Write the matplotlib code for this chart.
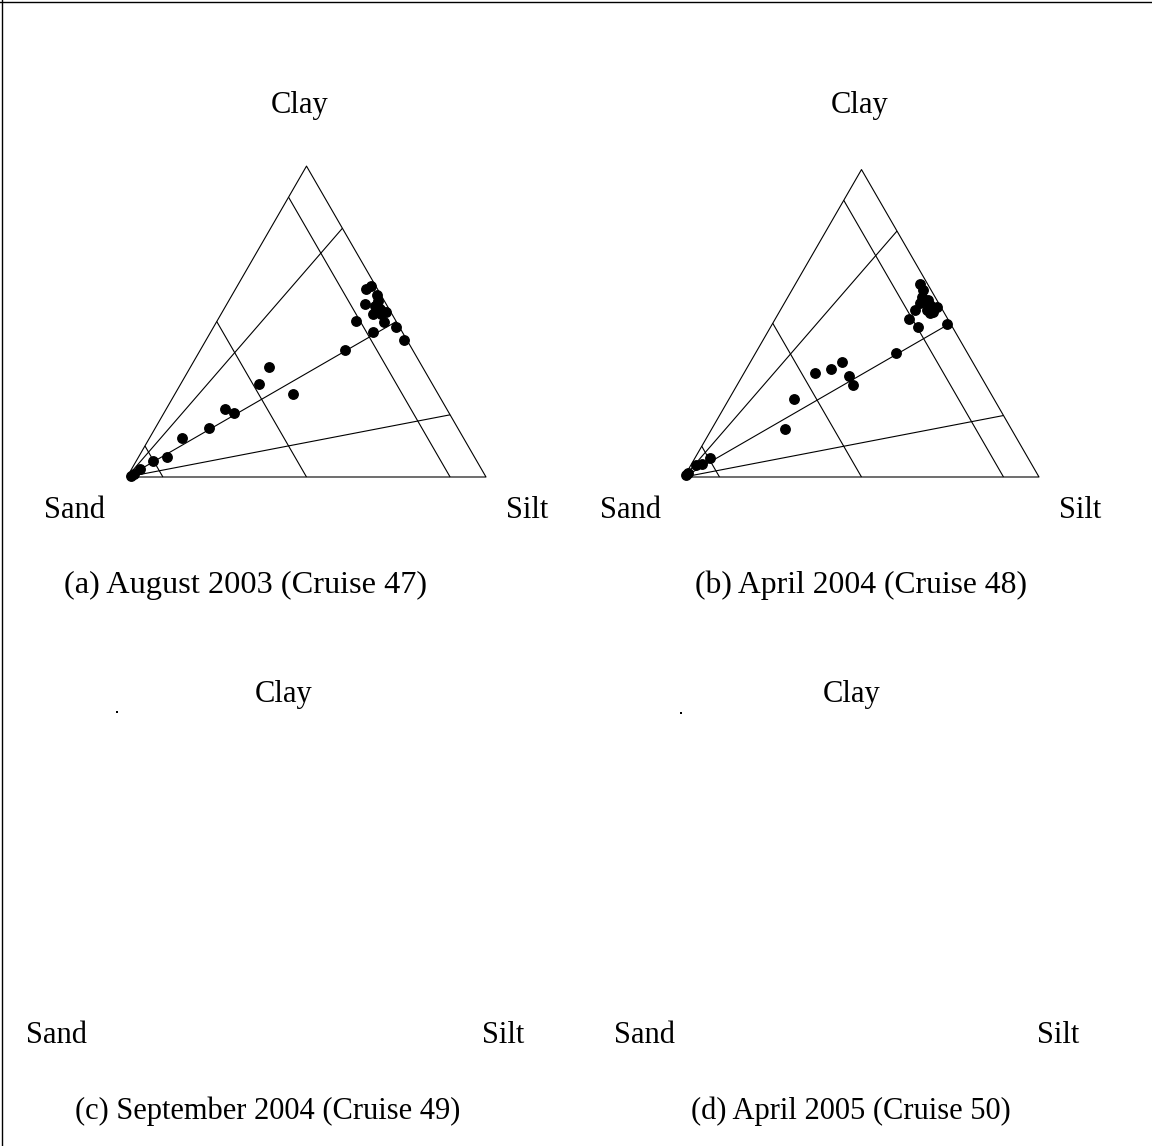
import matplotlib
matplotlib.use("Agg")
import matplotlib.pyplot as plt
import numpy as np
from matplotlib.lines import Line2D

# ---------------- data (percent) ----------------
# Panel (a) August 2003 (Cruise 47)
sand_a = [98.8, 97.5, 95.0, 90.2, 85.6, 78.3, 69.3, 61.9, 59.9, 48.3, 42.7, 40.4, 18.8,
          11.2, 8.2, 3.5, 1.0, 0.9, 1.4, 3.1, 1.0, 5.8, 3.5, 1.7, 2.6, 5.3, 1.2, 3.0]
silt_a = [0.9, 1.4, 2.3, 4.8, 7.9, 9.1, 14.8, 16.3, 19.5, 22.0, 21.8, 33.0, 40.3,
          38.7, 45.1, 46.8, 50.7, 55.0, 37.1, 36.5, 40.5, 38.6, 41.5, 41.6, 43.4, 42.3, 45.7, 44.7]
clay_a = [0.3, 1.1, 2.7, 5.0, 6.5, 12.6, 15.9, 21.8, 20.6, 29.8, 35.5, 26.6, 40.9,
          50.1, 46.8, 49.7, 48.3, 44.1, 61.5, 60.4, 58.5, 55.6, 55.1, 56.7, 54.0, 52.4, 53.1, 52.4]

# Panel (b) April 2004 (Cruise 48)
sand_b = [99.2, 98.2, 94.7, 93.0, 89.5, 63.8, 56.2, 46.1, 41.0, 36.8, 37.0, 37.5, 20.2,
          11.0, 9.7, 1.1, 7.8, 2.1, 2.2, 3.7, 2.4, 5.3, 4.5, 2.9, 2.7, 1.1, 3.6, 4.0]
silt_b = [0.3, 0.5, 1.4, 2.9, 4.2, 20.7, 18.4, 19.9, 23.9, 25.9, 30.0, 32.6, 39.6,
          37.7, 41.4, 49.0, 37.9, 35.1, 37.0, 37.6, 40.0, 38.2, 41.2, 43.3, 41.3, 43.5, 38.8, 42.6]
clay_b = [0.5, 1.3, 3.9, 4.1, 6.3, 15.5, 25.4, 33.9, 35.1, 37.3, 33.0, 29.9, 40.2,
          51.3, 48.9, 49.9, 54.3, 62.8, 60.8, 58.7, 57.6, 56.5, 54.3, 53.8, 56.0, 55.4, 57.6, 53.4]

# classification lines
sand_levels = [90, 50, 10]            # lines of constant sand %
clay_ratio_levels = [0.2, 0.5, 0.8]   # clay/(clay+silt) rays from the sand corner

vertex_labels = ["Sand", "Silt", "Clay"]
captions = ["(a) August 2003 (Cruise 47)", "(b) April 2004 (Cruise 48)",
            "(c) September 2004 (Cruise 49)", "(d) April 2005 (Cruise 50)"]

# stray specks in the empty panels (c) and (d), figure pixels
speck_x = [117, 681]
speck_y = [712, 713]

# ---------------- helpers ----------------
W, H = 1152, 1146
S3 = np.sqrt(3) / 2
FONT = "Liberation Serif"
FS = 22


def tern(sand, silt, clay):
    sand = np.asarray(sand, float); silt = np.asarray(silt, float); clay = np.asarray(clay, float)
    tot = sand + silt + clay
    silt = silt / tot; clay = clay / tot
    return silt + clay / 2, clay * S3


def px_axes(left, bottom_px, width):
    height = width * S3
    ax = fig.add_axes([left / W, 1 - bottom_px / H, width / W, height / H])
    ax.set_xlim(0, 1)
    ax.set_ylim(0, S3)
    ax.axis("off")
    return ax


def draw_triangle(ax, sand, silt, clay):
    lw = 0.8
    kw = dict(color="black", lw=lw, solid_capstyle="butt", clip_on=False)
    ox, oy = tern([100, 0, 0, 100], [0, 100, 0, 0], [0, 0, 100, 0])
    ax.plot(ox, oy, **kw)
    for s in sand_levels:
        lx, ly = tern([s, s], [0, 100 - s], [100 - s, 0])
        ax.plot(lx, ly, **kw)
    for r in clay_ratio_levels:
        lx, ly = tern([100, 0], [0, 100 * (1 - r)], [0, 100 * r])
        ax.plot(lx, ly, **kw)
    px, py = tern(sand, silt, clay)
    ax.plot(px, py, "o", color="black", ms=6.8, mec="black", clip_on=False, zorder=3)


fig = plt.figure(figsize=(W / 100, H / 100), dpi=100)

ax_a = px_axes(127, 477, 359)
draw_triangle(ax_a, sand_a, silt_a, clay_a)
ax_b = px_axes(684, 477, 355)
draw_triangle(ax_b, sand_b, silt_b, clay_b)

ov = fig.add_axes([0, 0, 1, 1])
ov.set_xlim(0, W); ov.set_ylim(H, 0); ov.axis("off")
ov.plot(speck_x, speck_y, "s", color="black", ms=1.6, mew=0)

fig.add_artist(Line2D([1.5 / W, 1.5 / W], [0, 1], color="black", lw=1.0))
fig.add_artist(Line2D([0, 1], [1 - 1.5 / H, 1 - 1.5 / H], color="black", lw=1.0))


def ftext(x, y, s, fs=FS):
    fig.text(x / W, 1 - y / H, s, ha="center", va="baseline", fontsize=fs, family=FONT)


# (sand_x, silt_x, clay_x, clay_base, corner_base, caption_x, caption_base, caption_size)
layout = [
    (75, 527, 300, 113, 518, 246, 593, 23.3),
    (631, 1080, 860, 113, 518, 861, 593, 22.8),
    (57, 503, 284, 702, 1043, 268, 1119, 22),
    (644, 1058, 852, 702, 1043, 851, 1119, 22),
]
for (sx, tx, cx, cb, vb, capx, capb, cfs), cap in zip(layout, captions):
    ftext(sx, vb, vertex_labels[0])
    ftext(tx, vb, vertex_labels[1])
    ftext(cx, cb, vertex_labels[2])
    ftext(capx, capb, cap, cfs)

fig.savefig("out.png", dpi=100)
